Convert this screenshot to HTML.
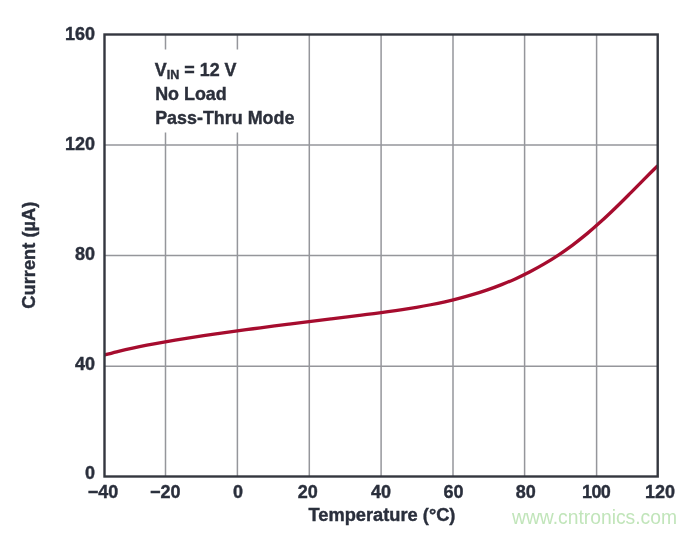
<!DOCTYPE html>
<html>
<head>
<meta charset="utf-8">
<title>Current vs Temperature</title>
<style>
  html, body { margin: 0; padding: 0; background: #ffffff; }
  body { width: 696px; height: 533px; overflow: hidden; }
  svg { display: block; filter: blur(0.45px); }
  text { font-family: "Liberation Sans", Arial, sans-serif; }
  .lbl { font-weight: bold; font-size: 18px; fill: #2a2f3c; stroke: #2a2f3c; stroke-width: 0.4px; }
  .ann { font-weight: bold; font-size: 17.9px; fill: #2c303b; stroke: #2c303b; stroke-width: 0.4px; }
  .wm  { font-size: 19.3px; fill: #c1e5ba; }
</style>
</head>
<body>
<svg width="696" height="533" viewBox="0 0 696 533">
  <rect x="0" y="0" width="696" height="533" fill="#ffffff"/>

  <!-- grid -->
  <g stroke="#95969b" stroke-width="1.5" fill="none">
    <line x1="165.5" y1="34.5" x2="165.5" y2="476.5"/>
    <line x1="237.4" y1="34.5" x2="237.4" y2="476.5"/>
    <line x1="309.3" y1="34.5" x2="309.3" y2="476.5"/>
    <line x1="381.1" y1="34.5" x2="381.1" y2="476.5"/>
    <line x1="453.0" y1="34.5" x2="453.0" y2="476.5"/>
    <line x1="524.6" y1="34.5" x2="524.6" y2="476.5"/>
    <line x1="596.6" y1="34.5" x2="596.6" y2="476.5"/>
    <line x1="104.5" y1="144.9" x2="657.7" y2="144.9"/>
    <line x1="104.5" y1="255.6" x2="657.7" y2="255.6"/>
    <line x1="104.5" y1="366.2" x2="657.7" y2="366.2"/>
  </g>

  <!-- white mask behind annotation -->
  <rect x="150" y="49.5" width="150" height="83" fill="#ffffff"/>

  <!-- curve -->
  <path d="M104.3 355.13 C106.7 354.50 113.8 352.54 118.5 351.36 C123.2 350.18 127.9 349.09 132.7 348.06 C137.4 347.02 142.1 346.06 146.9 345.13 C151.6 344.21 156.3 343.34 161.1 342.51 C165.8 341.67 170.5 340.87 175.2 340.10 C180.0 339.33 184.7 338.59 189.4 337.86 C194.2 337.13 198.9 336.43 203.6 335.73 C208.4 335.03 213.1 334.36 217.8 333.68 C222.5 333.01 227.3 332.34 232.0 331.68 C236.7 331.02 241.5 330.37 246.2 329.72 C250.9 329.07 255.7 328.43 260.4 327.79 C265.1 327.16 269.8 326.53 274.6 325.90 C279.3 325.28 284.0 324.67 288.8 324.07 C293.5 323.46 298.2 322.87 303.0 322.28 C307.7 321.69 312.4 321.11 317.1 320.53 C321.9 319.95 326.6 319.39 331.3 318.81 C336.1 318.24 340.8 317.68 345.5 317.11 C350.3 316.53 355.0 315.96 359.7 315.37 C364.4 314.78 369.2 314.19 373.9 313.58 C378.6 312.96 383.4 312.34 388.1 311.68 C392.8 311.02 397.6 310.34 402.3 309.61 C407.0 308.89 411.7 308.14 416.5 307.33 C421.2 306.52 425.9 305.67 430.7 304.75 C435.4 303.83 440.1 302.86 444.9 301.80 C449.6 300.74 454.3 299.62 459.0 298.39 C463.8 297.17 468.5 295.87 473.2 294.45 C478.0 293.04 482.7 291.53 487.4 289.90 C492.2 288.26 496.9 286.53 501.6 284.65 C506.3 282.77 511.1 280.78 515.8 278.63 C520.5 276.48 525.3 274.21 530.0 271.76 C534.7 269.32 539.5 266.73 544.2 263.95 C548.9 261.17 553.6 258.24 558.4 255.09 C563.1 251.95 567.8 248.62 572.6 245.08 C577.3 241.55 582.0 237.80 586.8 233.88 C591.5 229.95 596.2 225.81 600.9 221.53 C605.7 217.26 610.4 212.77 615.1 208.22 C619.9 203.66 624.6 198.93 629.3 194.21 C634.1 189.48 638.8 184.63 643.5 179.89 C648.2 175.14 655.3 168.10 657.7 165.75" fill="none" stroke="#a60c2e" stroke-width="3.3" stroke-linecap="butt" stroke-linejoin="round"/>

  <!-- frame -->
  <rect x="104.5" y="34.5" width="553.2" height="442" fill="none" stroke="#34373f" stroke-width="2.4"/>

  <!-- annotation -->
  <text class="ann" x="154.8" y="75.7">V<tspan font-size="12.6" dy="3.5">IN</tspan><tspan dy="-3.5"> = 12 V</tspan></text>
  <text class="ann" x="155.2" y="100.4">No Load</text>
  <text class="ann" x="155.2" y="124.3">Pass-Thru Mode</text>

  <!-- y tick labels -->
  <g class="lbl" text-anchor="end">
    <text x="95" y="40">160</text>
    <text x="95" y="150">120</text>
    <text x="95" y="259.7">80</text>
    <text x="95" y="369.5">40</text>
    <text x="95" y="478.8">0</text>
  </g>

  <!-- x tick labels -->
  <g class="lbl" text-anchor="middle">
    <text x="103" y="498">−40</text>
    <text x="165.2" y="498">−20</text>
    <text x="238" y="498">0</text>
    <text x="307.8" y="498">20</text>
    <text x="381" y="498">40</text>
    <text x="453.4" y="498">60</text>
    <text x="525.8" y="498">80</text>
    <text x="596.1" y="498" letter-spacing="-0.6">100</text>
    <text x="660" y="498">120</text>
  </g>

  <!-- axis titles -->
  <text class="lbl" style="font-size:18.25px" text-anchor="middle" x="382" y="521.3">Temperature (°C)</text>
  <text class="lbl" style="font-size:18.3px" text-anchor="middle" transform="translate(34.7 255.2) rotate(-90)">Current (µA)</text>

  <!-- watermark -->
  <text class="wm" x="512" y="523.8">www.cntronics.com</text>
</svg>
</body>
</html>
